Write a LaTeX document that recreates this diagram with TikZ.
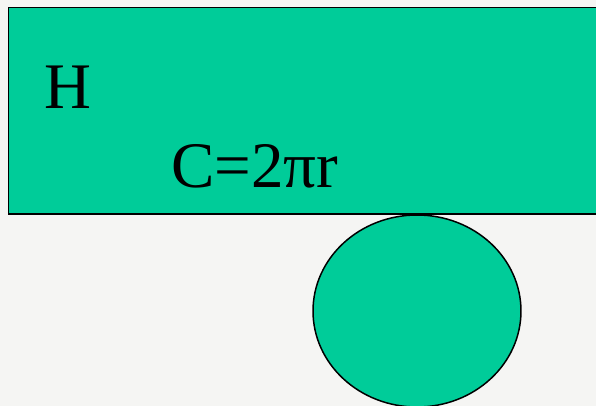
\documentclass[tikz,border=0pt]{standalone}
\usepackage{fontspec}
\setmainfont{Liberation Serif}
\usepackage{xcolor}
\usetikzlibrary{positioning}

\definecolor{sheet}{HTML}{F5F5F3}
\definecolor{mint}{HTML}{00CC99}

\begin{document}
\begin{tikzpicture}[
  x=0.02cm, y=-0.02cm,
  solidpart/.style={draw=black,fill=mint},
  bigtext/.style={font=\fontsize{37}{40}\selectfont,inner sep=0pt,anchor=base west}
]
  % page
  \fill[sheet] (0,0) rectangle (596,406);
  \useasboundingbox (0,0) rectangle (596,406);

  % cylinder side, unrolled, and its base
  \draw[solidpart,line width=1.1pt] (8.5,7.5) rectangle (610,214);
  \draw[solidpart,line width=0.85pt] (417,311) ellipse [x radius=104, y radius=96];

  \node[bigtext] (height) at (44,108) {H};
  \node[bigtext] (girth)  at (171,187) {C=2πr};
\end{tikzpicture}
\end{document}
